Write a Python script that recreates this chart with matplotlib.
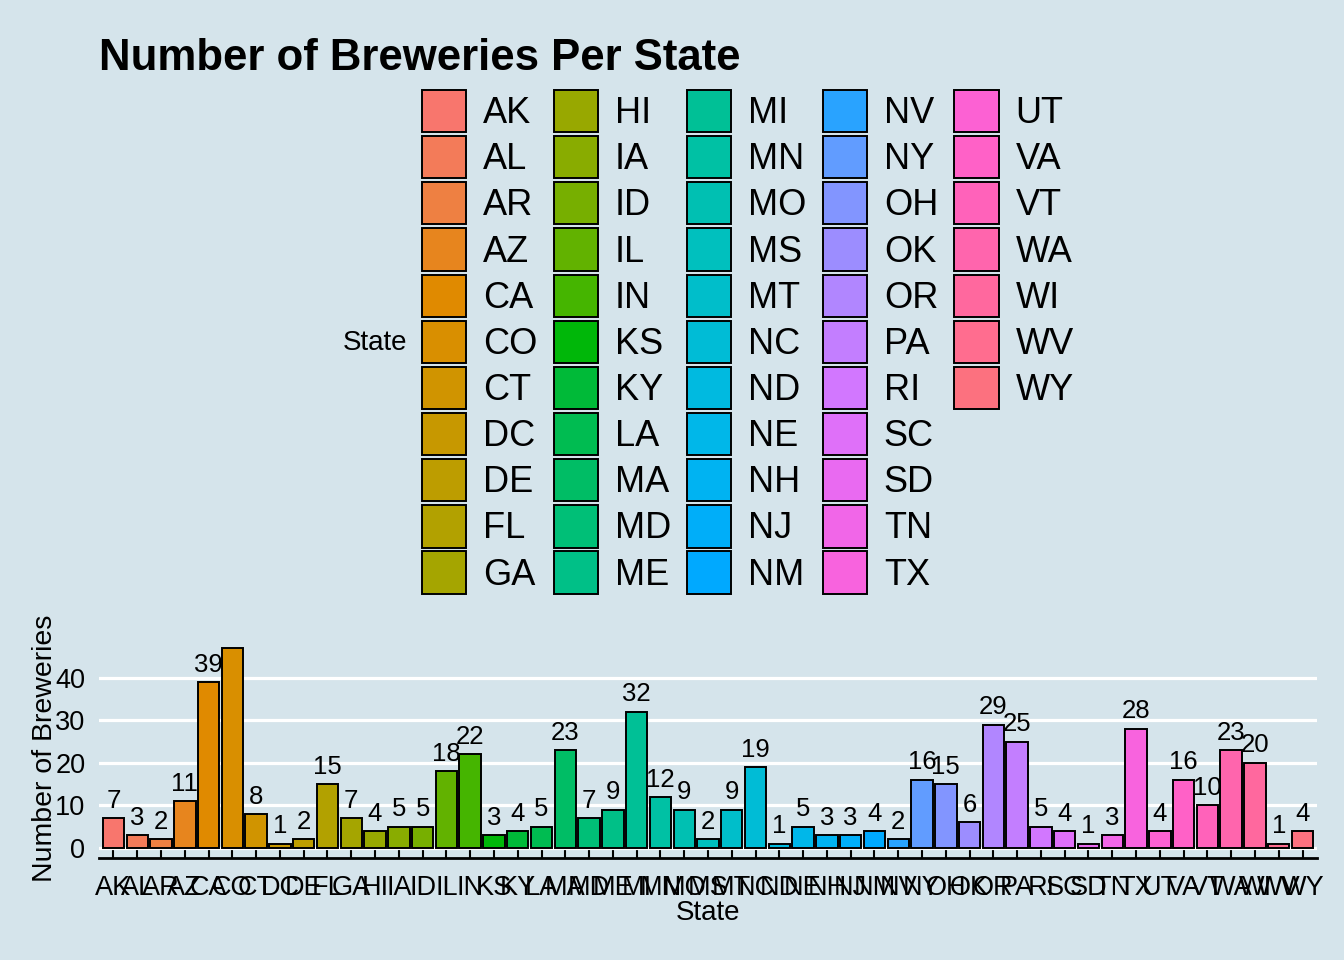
import numpy as np
import matplotlib
matplotlib.use("Agg")
import matplotlib.pyplot as plt
from matplotlib.patches import Rectangle
from matplotlib.transforms import offset_copy

plt.rcParams['font.family'] = ['Liberation Sans', 'DejaVu Sans']

states = ["AK", "AL", "AR", "AZ", "CA", "CO", "CT", "DC", "DE", "FL", "GA",
          "HI", "IA", "ID", "IL", "IN", "KS", "KY", "LA", "MA", "MD", "ME",
          "MI", "MN", "MO", "MS", "MT", "NC", "ND", "NE", "NH", "NJ", "NM",
          "NV", "NY", "OH", "OK", "OR", "PA", "RI", "SC", "SD", "TN", "TX",
          "UT", "VA", "VT", "WA", "WI", "WV", "WY"]
breweries = [7, 3, 2, 11, 39, 47, 8, 1, 2, 15, 7,
             4, 5, 5, 18, 22, 3, 4, 5, 23, 7, 9,
             32, 12, 9, 2, 9, 19, 1, 5, 3, 3, 4,
             2, 16, 15, 6, 29, 25, 5, 4, 1, 3, 28,
             4, 16, 10, 23, 20, 1, 4]
y_ticks = [0, 10, 20, 30, 40]

BG = "#d5e4eb"


def hcl_to_hex(h, c=100.0, l=65.0):
    # polar CIE Luv -> sRGB (as ggplot2's hue palette)
    Xn, Yn, Zn = 95.047, 100.0, 108.883
    hr = np.deg2rad(h)
    u, v = c * np.cos(hr), c * np.sin(hr)
    Y = Yn * ((l + 16) / 116) ** 3 if l > 8 else Yn * l / 903.3
    un = 4 * Xn / (Xn + 15 * Yn + 3 * Zn)
    vn = 9 * Yn / (Xn + 15 * Yn + 3 * Zn)
    up = u / (13 * l) + un
    vp = v / (13 * l) + vn
    X = Y * 9 * up / (4 * vp)
    Z = Y * (12 - 3 * up - 20 * vp) / (4 * vp)
    X, Y, Z = X / 100, Y / 100, Z / 100
    r = 3.2404542 * X - 1.5371385 * Y - 0.4985314 * Z
    g = -0.9692660 * X + 1.8760108 * Y + 0.0415560 * Z
    b = 0.0556434 * X - 0.2040259 * Y + 1.0572252 * Z

    def gam(t):
        t = min(max(t, 0.0), 1.0)
        return 12.92 * t if t <= 0.0031308 else 1.055 * t ** (1 / 2.4) - 0.055
    return "#%02x%02x%02x" % tuple(int(round(gam(t) * 255)) for t in (r, g, b))


n = len(states)
hues = np.linspace(15, 375, n + 1)[:n]
colors = [hcl_to_hex(h) for h in hues]

W, H = 1344, 960
fig = plt.figure(figsize=(W / 100, H / 100), dpi=100, facecolor=BG)
ax = fig.add_axes([99.2 / W, (H - 858) / H, 1217.6 / W, 220 / H], facecolor=BG)

x = np.arange(n)
bars = ax.bar(x, breweries, width=0.9, color=colors, edgecolor="black",
              linewidth=1.4, zorder=3)

ax.set_xlim(-0.6, n - 1 + 0.6)
ax.set_ylim(-2.35, 49.35)
ax.set_xticks(x)
ax.set_xticklabels(states, fontsize=19.5)
ax.set_yticks(y_ticks)
ax.set_yticklabels([str(t) for t in y_ticks], fontsize=19.5)

ax.grid(axis="y", color="white", linewidth=2.3, zorder=0)
ax.grid(axis="x", visible=False)
for s in ("left", "right", "top"):
    ax.spines[s].set_visible(False)
ax.spines["bottom"].set_linewidth(2.0)
ax.spines["bottom"].set_color("black")
ax.spines["bottom"].set_zorder(5)
ax.tick_params(axis="x", direction="in", length=8, width=1.5, color="black",
               pad=12.5)
ax.tick_params(axis="y", length=0, pad=10)
for t in ax.xaxis.get_major_ticks():
    t.tick1line.set_zorder(6)

tr = offset_copy(ax.transData, fig=fig, x=0, y=7.5, units="points")
for xi, v in zip(x, breweries):
    ax.text(xi, v, str(v), transform=tr, ha="center", va="baseline",
            fontsize=18.5, clip_on=True, zorder=4)

ax.set_xlabel("State", fontsize=20)
ax.xaxis.set_label_coords(0.5, -0.19)
ax.set_ylabel("Number of Breweries", fontsize=20.5)
ax.yaxis.set_label_coords(-0.0338, 0.5)

fig.text(99 / W, 1 - 70 / H, "Number of Breweries Per State", fontsize=31.5,
         fontweight="bold", ha="left", va="baseline")

# legend: 5 columns of 11 rows, filled column-wise (pad the last column)
handles = list(bars)
labels = list(states)
n_rows = 11
n_pad = 5 * n_rows - len(handles)
for _ in range(n_pad):
    handles.append(Rectangle((0, 0), 1, 1, fill=False, edgecolor="none",
                             visible=False))
    labels.append("")
for p in handles[:n]:
    p.set_linewidth(1.4)

leg = fig.legend(handles, labels, ncol=5, loc="upper left",
                 bbox_to_anchor=(422 / W, 1 - 90 / H), frameon=False,
                 fontsize=26, borderpad=0, borderaxespad=0,
                 handlelength=1.22, handleheight=1.42, handletextpad=0.47,
                 labelspacing=0.11, columnspacing=0.45)
fig.text(407 / W, 1 - 343 / H, "State", fontsize=20, ha="right", va="center")

fig.savefig("out.png", dpi=100, facecolor=BG)
